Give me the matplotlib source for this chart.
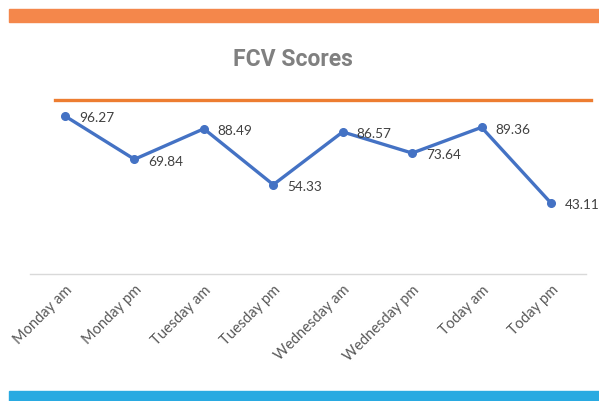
import matplotlib.pyplot as plt

categories = ['Monday am', 'Monday pm', 'Tuesday am', 'Tuesday pm',
              'Wednesday am', 'Wednesday pm', 'Today am', 'Today pm']
scores = [96.27, 69.84, 88.49, 54.33, 86.57, 73.64, 89.36, 43.11]
target = 106

plt.rcParams['font.family'] = ['Lato', 'DejaVu Sans']

fig = plt.figure(figsize=(5.99, 4.02), dpi=100)

# coloured bands top and bottom
fig.patches.append(plt.Rectangle((9 / 599, 1 - 22.5 / 402), 590 / 599, 12.5 / 402,
                                 transform=fig.transFigure, color='#F4874B', zorder=0))
fig.patches.append(plt.Rectangle((9 / 599, 0), 590 / 599, 10 / 402,
                                 transform=fig.transFigure, color='#29AAE1', zorder=0))

fig.text(293 / 599, 1 - 60 / 402, 'FCV Scores', ha='center', va='center',
         fontsize=16.5, fontweight='bold', color='#808080', family='Roboto')

ax = fig.add_axes([0.0506, 0.3169, 0.9272, 0.456])
x = range(len(categories))
ax.plot(x, scores, color='#4472C4', linewidth=2.4, marker='o', markersize=5.5)
ax.axhline(target, xmin=0.0445, xmax=1.01, color='#ED7D31', linewidth=2.4, clip_on=False)

for i, v in enumerate(scores):
    ax.annotate(f'{v:.2f}', (i, v), xytext=(10, -1), textcoords='offset points',
                ha='left', va='center', fontsize=9.8, color='#404040')

ax.set_xlim(-0.5, len(categories) - 0.5)
ax.set_ylim(0, 112)
ax.set_xticks(list(x))
ax.set_xticklabels(categories, rotation=45, ha='right', rotation_mode='anchor',
                   fontsize=10.5, color='#595959')
ax.tick_params(axis='x', length=0, pad=6)
ax.set_yticks([])
for s in ['top', 'right', 'left']:
    ax.spines[s].set_visible(False)
ax.spines['bottom'].set_color('#D9D9D9')
ax.spines['bottom'].set_linewidth(1)
ax.patch.set_visible(False)

fig.savefig('out.png', dpi=100)
